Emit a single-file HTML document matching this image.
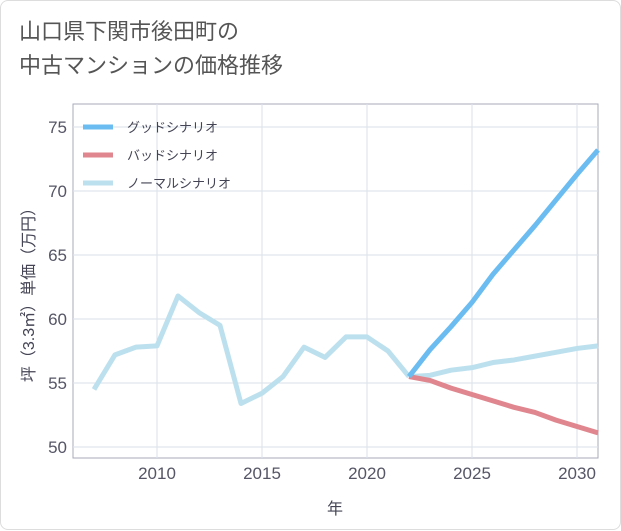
<!DOCTYPE html>
<html><head><meta charset="utf-8"><style>
body{margin:0;background:#fff;}
#wrap{position:relative;width:619px;height:528px;border:1px solid #ddd;border-radius:8px;background:#fff;font-family:"Liberation Sans","Noto Sans CJK JP",sans-serif;}
#title{position:absolute;left:18px;top:14px;font-size:22px;line-height:34px;color:#555;}
</style></head><body>
<div id="wrap">
<div id="title">山口県下関市後田町の<br>中古マンションの価格推移</div>
<svg id="chart" width="621" height="530" style="position:absolute;left:0;top:0"></svg>
</div>
<script>
const years=[2007,2008,2009,2010,2011,2012,2013,2014,2015,2016,2017,2018,2019,2020,2021,2022];
const normalHist=[54.5,57.2,57.8,57.9,61.8,60.5,59.5,53.4,54.2,55.5,57.8,57.0,58.6,58.6,57.5,55.5];
const futYears=[2022,2023,2024,2025,2026,2027,2028,2029,2030,2031];
const good=[55.5,57.6,59.4,61.3,63.5,65.4,67.3,69.3,71.3,73.2];
const bad=[55.5,55.2,54.6,54.1,53.6,53.1,52.7,52.1,51.6,51.1];
const normalFut=[55.5,55.6,56.0,56.2,56.6,56.8,57.1,57.4,57.7,57.9];
const yTicks=[50,55,60,65,70,75];
const xTicks=[2010,2015,2020,2025,2030];
const legendLabels=["グッドシナリオ","バッドシナリオ","ノーマルシナリオ"];
const legendColors=["#6bbcf0","#e0868e","#bde0ee"];

const svg=document.getElementById('chart');const NS='http://www.w3.org/2000/svg';
const L=72,R=597,T=103,B=457;
const xs=y=>156+(y-2010)*21;
const ys=v=>446-(v-50)*12.8;
function el(t,a){const e=document.createElementNS(NS,t);for(const k in a)e.setAttribute(k,a[k]);svg.appendChild(e);return e;}
const bg=el('rect',{x:L,y:T,width:R-L,height:B-T,fill:'#fff',stroke:'#aab','stroke-width':1});


yTicks.forEach(v=>{const g=el('line',{x1:L,x2:R,y1:ys(v),y2:ys(v),stroke:'#d8e2ea'});


const t=el('text',{x:L-6,y:ys(v)+6,'text-anchor':'end','font-size':17,fill:'#556'});t.textContent=v;

});
xTicks.forEach(v=>{const g=el('line',{x1:xs(v),x2:xs(v),y1:T,y2:B,stroke:'#d8e2ea'});


const t=el('text',{x:xs(v),y:B+21,'text-anchor':'middle','font-size':17,fill:'#556'});t.textContent=v;

});
const xt=el('text',{x:334,y:513,'text-anchor':'middle','font-size':16,fill:'#445'});xt.textContent='年';


const yt=el('text',{x:0,y:0,'text-anchor':'middle','font-size':16,fill:'#445',transform:'translate(33,290) rotate(-90)'});yt.textContent='坪（3.3㎡）単価（万円）';


function line(xv,yv,c,name){const p=el('polyline',{points:xv.map((x,i)=>xs(x)+','+ys(yv[i])).join(' '),fill:'none',stroke:c,'stroke-width':5,'stroke-linejoin':'round'});

}
line(years,normalHist,legendColors[2],'normal-history-line');
line(futYears,normalFut,legendColors[2],'normal-scenario-line');
line(futYears,bad,legendColors[1],'bad-scenario-line');
line(futYears,good,legendColors[0],'good-scenario-line');
legendLabels.forEach((s,i)=>{const y=126+i*28;
const l=el('line',{x1:82,x2:112,y1:y,y2:y,stroke:legendColors[i],'stroke-width':5});


const t=el('text',{x:126,y:y+5,'font-size':13,fill:'#445'});t.textContent=s;

});
</script>
</body></html>
